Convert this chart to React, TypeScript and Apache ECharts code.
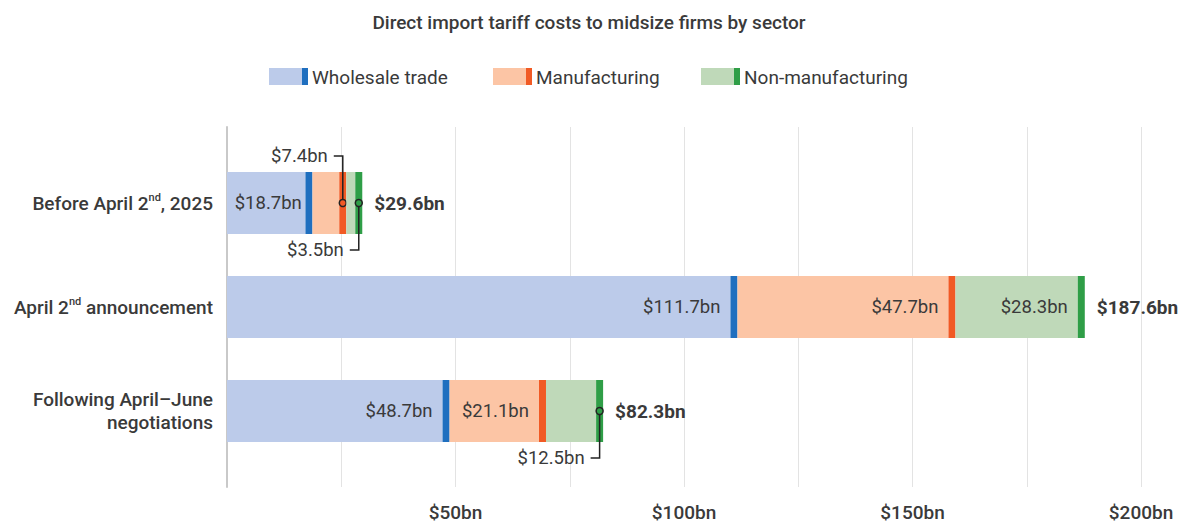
import React, { useEffect, useRef } from 'react';
import * as echarts from 'echarts';

const categories = [
  'Before April 2{sup|nd}, 2025',
  'April 2{sup|nd} announcement',
  'Following April–June\nnegotiations',
];
const sectors = ['Wholesale trade', 'Manufacturing', 'Non-manufacturing'];
const wholesale = [18.7, 111.7, 48.7];
const manufacturing = [7.4, 47.7, 21.1];
const nonManufacturing = [3.5, 28.3, 12.5];
const totals = [29.6, 187.6, 82.3];
const xTickLabels = [50, 100, 150, 200];
// callouts: [sectorIndex, rowIndex, direction(-1 up, 1 down)]
const callouts = [
  [1, 0, -1],
  [2, 0, 1],
  [2, 2, 1],
];

const lightColors = ['#bccbea', '#fcc5a5', '#bfd9b9'];
const darkColors = ['#1f6fbf', '#f15a24', '#2f9e47'];
const FONT = 'Roboto, "Noto Sans", sans-serif';
const TXT = '#3a3a3a';
const STRIPE = 7;
const BAR_H = 62;

const sectorValues = [wholesale, manufacturing, nonManufacturing];

function buildSeries() {
  const series: any[] = [];
  sectors.forEach((name, s) => {
    const data = categories.map((_, r) => {
      let start = 0;
      for (let k = 0; k < s; k++) start += sectorValues[k][r];
      return [start, start + sectorValues[s][r], r];
    });
    series.push({
      type: 'custom',
      name,
      xAxisIndex: 0,
      yAxisIndex: 0,
      encode: { x: [0, 1], y: 2 },
      data,
      z: 5,
      renderItem: (params: any, api: any) => {
        const start = api.value(0);
        const end = api.value(1);
        const r = api.value(2);
        const p0 = api.coord([start, r]);
        const p1 = api.coord([end, r]);
        const yc = p0[1];
        const y = yc - BAR_H / 2;
        const lightW = Math.max(0, p1[0] - p0[0] - STRIPE);
        const children: any[] = [
          {
            type: 'rect',
            shape: { x: p0[0], y, width: lightW, height: BAR_H },
            style: { fill: lightColors[s] },
          },
          {
            type: 'rect',
            shape: { x: p1[0] - STRIPE, y, width: STRIPE, height: BAR_H },
            style: { fill: darkColors[s] },
          },
        ];
        const co = callouts.find((c) => c[0] === s && c[1] === r);
        const val = sectorValues[s][r];
        const txt = `$${val.toFixed(1)}bn`;
        if (!co) {
          const estW = txt.length * 9.3;
          const centered = lightW < estW + 20;
          children.push({
            type: 'text',
            x: centered ? p0[0] + lightW / 2 + 2 : p1[0] - STRIPE - 10,
            y: yc,
            style: {
              text: txt,
              align: centered ? 'center' : 'right',
              verticalAlign: 'middle',
              fill: TXT,
              font: `400 18.5px ${FONT}`,
            },
          });
        } else {
          const cx = p1[0] - STRIPE / 2;
          const dir = co[2];
          const ly = yc + dir * 47;
          children.push({
            type: 'polyline',
            shape: { points: [[cx, yc], [cx, ly], [cx - 9, ly]] },
            style: { stroke: '#222', lineWidth: 1.5, fill: 'none' },
          });
          children.push({
            type: 'circle',
            shape: { cx, cy: yc, r: 3.5 },
            style: { fill: darkColors[s], stroke: '#222', lineWidth: 1.5 },
          });
          children.push({
            type: 'text',
            x: cx - 15,
            y: ly,
            style: {
              text: txt,
              align: 'right',
              verticalAlign: 'middle',
              fill: TXT,
              font: `400 18.5px ${FONT}`,
            },
          });
        }
        if (s === sectors.length - 1) {
          children.push({
            type: 'text',
            x: p1[0] + 12,
            y: yc,
            style: {
              text: `$${totals[r].toFixed(1)}bn`,
              align: 'left',
              verticalAlign: 'middle',
              fill: TXT,
              font: `700 19px ${FONT}`,
            },
          });
        }
        return { type: 'group', children };
      },
    });
  });
  return series;
}

function buildLegend() {
  const xs = [269, 493, 701];
  const els: any[] = [];
  sectors.forEach((name, i) => {
    els.push({ type: 'rect', x: xs[i], y: 68, shape: { x: 0, y: 0, width: 33, height: 17 }, style: { fill: lightColors[i] } });
    els.push({ type: 'rect', x: xs[i] + 33, y: 68, shape: { x: 0, y: 0, width: 6, height: 17 }, style: { fill: darkColors[i] } });
    els.push({
      type: 'text',
      x: xs[i] + 43,
      y: 77,
      style: { text: name, fill: TXT, font: `400 19px ${FONT}`, align: 'left', verticalAlign: 'middle' },
    });
  });
  return els;
}

export default function App() {
  const ref = useRef<HTMLDivElement>(null);
  useEffect(() => {
    if (!ref.current) return;
    const chart = echarts.init(ref.current, undefined, { renderer: 'svg' });
    chart.setOption({
      animation: false,
      backgroundColor: '#ffffff',
      title: {
        text: 'Direct import tariff costs to midsize firms by sector',
        left: 'center',
        top: 8,
        textStyle: { fontFamily: FONT, fontSize: 19, fontWeight: 500, color: TXT },
      },
      graphic: buildLegend(),
      grid: [
        { left: 227, right: 37, top: 151, height: 312 },
        { left: 227, right: 37, top: 127, height: 360 },
      ],
      xAxis: [
        { type: 'value', gridIndex: 0, min: 0, max: 200, show: false },
        {
          type: 'value',
          gridIndex: 1,
          min: 0,
          max: 200,
          interval: 25,
          axisLine: { show: false },
          axisTick: { show: false },
          splitLine: { show: true, lineStyle: { color: '#e3e3e3', width: 1 } },
          axisLabel: {
            margin: 16,
            fontFamily: FONT,
            fontSize: 19,
            fontWeight: 500,
            color: TXT,
            formatter: (v: number) => (xTickLabels.includes(v) ? `$${v}bn` : ''),
          },
        },
      ],
      yAxis: [
        {
          type: 'category',
          gridIndex: 0,
          data: categories,
          inverse: true,
          axisLine: { show: false },
          axisTick: { show: false },
          axisLabel: {
            margin: 14,
            fontFamily: FONT,
            fontSize: 19,
            fontWeight: 500,
            color: TXT,
            lineHeight: 23,
            align: 'right',
            rich: {
              sup: { fontFamily: FONT, fontSize: 11, fontWeight: 500, color: TXT, verticalAlign: 'top', lineHeight: 23 },
            },
          },
        },
        {
          type: 'value',
          gridIndex: 1,
          min: 0,
          max: 1,
          axisLine: { show: true, lineStyle: { color: '#c9c9c9', width: 2 } },
          axisTick: { show: false },
          axisLabel: { show: false },
          splitLine: { show: false },
        },
      ],
      series: buildSeries(),
    });
    return () => chart.dispose();
  }, []);
  return <div ref={ref} style={{ position: 'fixed', left: 0, top: 0, width: 1178, height: 523 }} />;
}
